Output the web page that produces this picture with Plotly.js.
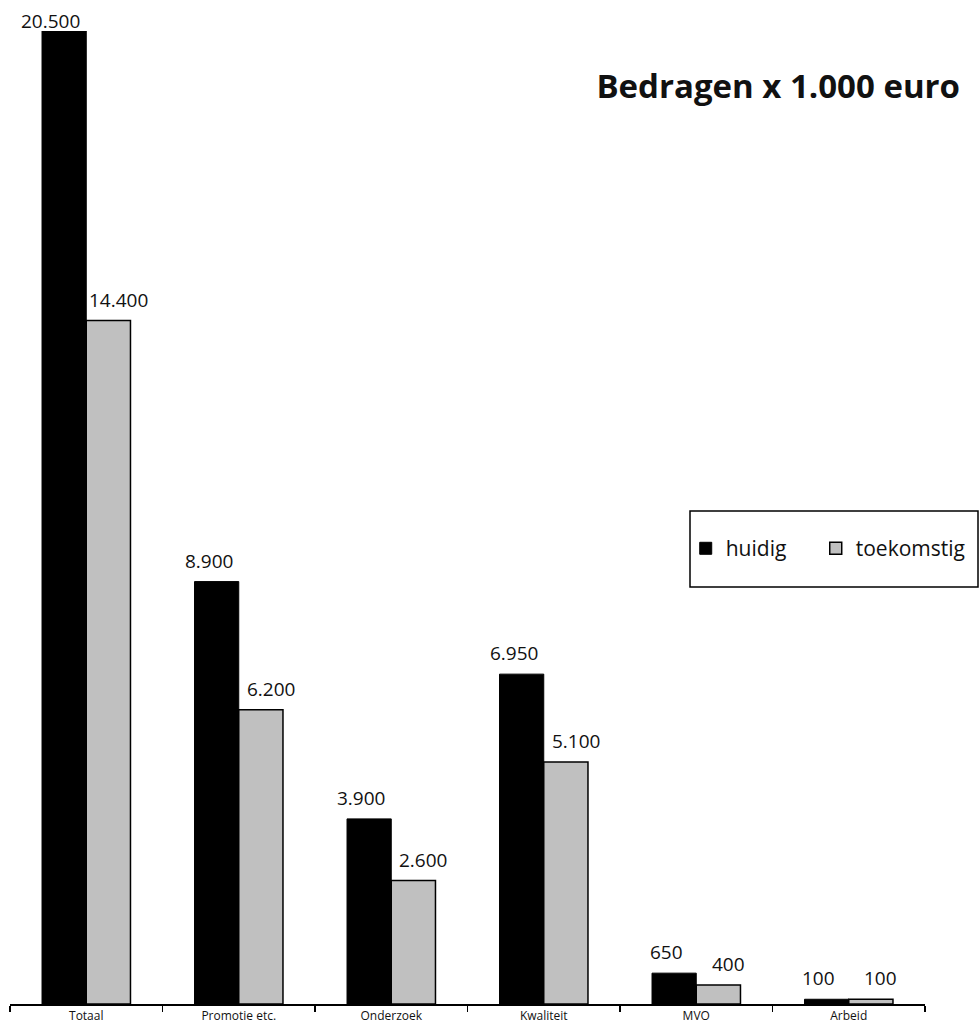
<!DOCTYPE html>
<html>
<head>
<meta charset="utf-8">
<script src="https://cdn.plot.ly/plotly-3.0.1.min.js"></script>
<style>
  html, body { margin: 0; padding: 0; background: #fff; }
  #chart { width: 979px; height: 1034px; }
</style>
</head>
<body>
<div id="chart"></div>
<script>
// Budgetposten, bedragen x 1.000 euro
const categories = ['Totaal', 'Promotie etc.', 'Onderzoek', 'Kwaliteit', 'MVO', 'Arbeid'];
const huidig = [20500, 8900, 3900, 6950, 650, 100];
const toekomstig = [14400, 6200, 2600, 5100, 400, 100];
const seriesNames = ['huidig', 'toekomstig'];

const FONT = '"Open Sans", "DejaVu Sans", sans-serif';
const BARGAP = 0.42;
const YMAX = Math.max(...huidig, ...toekomstig);

const traces = [
  {
    type: 'bar', name: seriesNames[0], x: categories, y: huidig,
    legendwidth: 85,
    marker: { color: '#000000', line: { color: '#000000', width: 1 } }
  },
  {
    type: 'bar', name: seriesNames[1], x: categories, y: toekomstig,
    marker: { color: '#c0c0c0', line: { color: '#000000', width: 1.5 } }
  }
];

// value labels above each bar; the tallest one is pulled down so it stays on the page
const fmt = v => v.toLocaleString('nl-NL');
const half = (1 - BARGAP) / 4;
const labels = [];
[[huidig, -half, -8], [toekomstig, half, 10]].forEach(([vals, off, dx]) => {
  vals.forEach((v, i) => {
    labels.push({
      xref: 'x', yref: 'y', x: i + off, y: v,
      text: fmt(v), showarrow: false,
      xanchor: 'center', yanchor: 'bottom',
      yshift: v >= YMAX ? -5 : 6, xshift: v >= YMAX ? -14 : dx,
      font: { family: FONT, size: 19, color: '#111' }
    });
  });
});

const layout = {
  width: 979, height: 1034,
  paper_bgcolor: '#fff', plot_bgcolor: '#fff',
  separators: ',.',
  font: { family: FONT, color: '#111' },
  margin: { l: 10, r: 54, t: 31, b: 30, autoexpand: false },
  barmode: 'group', bargap: BARGAP, bargroupgap: 0,
  showlegend: true,
  title: {
    text: '<b>Bedragen x 1.000 euro</b>',
    font: { family: FONT, size: 33, color: '#111' },
    xref: 'container', yref: 'container',
    x: 960 / 979, xanchor: 'right',
    y: 1 - 86 / 1034, yanchor: 'middle'
  },
  xaxis: {
    type: 'category', tickson: 'boundaries', range: [-0.5, 5.5],
    showline: true, linecolor: '#000', linewidth: 1.5,
    ticks: 'outside', ticklen: 6, tickcolor: '#000', tickwidth: 1.5,
    tickfont: { family: FONT, size: 12, color: '#111' },
    showgrid: false, zeroline: false, fixedrange: true
  },
  yaxis: {
    range: [0, YMAX], visible: false, showgrid: false, zeroline: false, fixedrange: true
  },
  legend: {
    orientation: 'h', x: 0.7385, xanchor: 'left', y: 0.468, yanchor: 'middle',
    bgcolor: 'rgba(0,0,0,0)', borderwidth: 0,
    font: { family: FONT, size: 21, color: '#111' },
    itemwidth: 30, traceorder: 'normal'
  },
  annotations: labels,
  shapes: [
    {
      type: 'rect', xref: 'paper', yref: 'paper',
      x0: (690 - 10) / 915, x1: (978 - 10) / 915,
      y0: (1004 - 587) / 973, y1: (1004 - 511) / 973,
      line: { color: '#000', width: 1.5 }, fillcolor: 'rgba(0,0,0,0)'
    }
  ]
};

Plotly.newPlot('chart', traces, layout, { displayModeBar: false, staticPlot: true });
</script>
</body>
</html>
